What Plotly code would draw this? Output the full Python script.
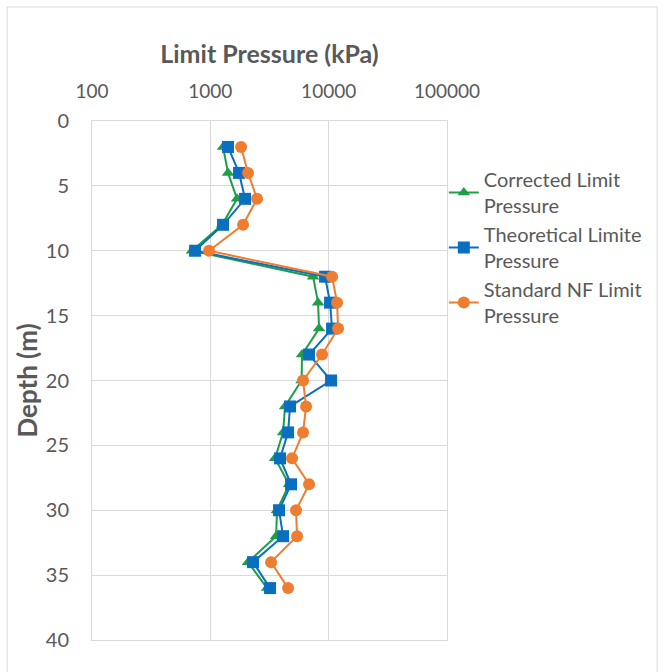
import plotly.graph_objects as go

depth = [2, 4, 6, 8, 10, 12, 14, 16, 18, 20, 22, 24, 26, 28, 30, 32, 34, 36]
corrected = [1281, 1411, 1681, 1256, 700, 7383, 8137, 8295, 5960, 5900, 4281, 4118, 3524, 4628, 3663, 3593, 2083, 3015]
theoretical = [1411, 1748, 1965, 1281, 743, 9325, 10275, 10683, 6830, 10478, 4718, 4539, 3883, 4811, 3808, 4118, 2296, 3196]
standard = [1818, 2083, 2482, 1890, 975, 10683, 11776, 12007, 8795, 6075, 6442, 6075, 4904, 6830, 5301, 5406, 3259, 4539]

names = ["Corrected Limit<br>Pressure", "Theoretical Limite<br>Pressure", "Standard NF Limit<br>Pressure"]
colors = ["#1E9E4A", "#0B6FC1", "#EE7D31"]
symbols = ["triangle-up", "square", "circle"]
sizes = [11, 12, 12]
x_ticks = [100, 1000, 10000, 100000]
x_labels = ["100", "1000", "10000", "100000"]

fig = go.Figure()
for vals, nm, c, s, sz in zip([corrected, theoretical, standard], names, colors, symbols, sizes):
    fig.add_trace(go.Scatter(x=vals, y=depth, name=nm, mode="lines+markers",
                             line=dict(color=c, width=2),
                             marker=dict(symbol=s, size=sz, color=c)))

font = "Lato, 'Open Sans', sans-serif"
fig.update_layout(
    width=664, height=672,
    margin=dict(l=92, r=217, t=121, b=32),
    paper_bgcolor="white", plot_bgcolor="white",
    font=dict(family=font, color="#595959", size=19),
    xaxis=dict(type="log", range=[2, 5], side="top",
               tickvals=x_ticks, ticktext=x_labels,
               showgrid=True, gridcolor="#D9D9D9", gridwidth=1,
               showline=True, linecolor="#D9D9D9", mirror=True,
               ticks="", tickfont=dict(size=19, color="#595959"),
               ticklabelstandoff=14,
               title=dict(text="<b>Limit Pressure (kPa)</b>", font=dict(size=25, color="#595959"), standoff=8),
               zeroline=False),
    yaxis=dict(range=[40, 0], dtick=5, tick0=0,
               showgrid=True, gridcolor="#D9D9D9", gridwidth=1,
               showline=True, linecolor="#D9D9D9", mirror=True,
               ticks="", tickfont=dict(size=20, color="#595959"),
               ticklabelstandoff=18,
               title=dict(text="<b>Depth (m)</b>", font=dict(size=26, color="#595959"), standoff=0),
               zeroline=False),
    legend=dict(x=0.991, y=0.925, xanchor="left", yanchor="top",
                font=dict(size=20, color="#595959", family=font),
                tracegroupgap=7, bgcolor="rgba(0,0,0,0)", itemwidth=30),
    shapes=[dict(type="rect", xref="paper", yref="paper",
                 x0=-0.239, x1=1.592, y0=-0.2, y1=1.2197,
                 line=dict(color="#D9D9D9", width=1), layer="below")],
)

fig.write_html("out.html")
